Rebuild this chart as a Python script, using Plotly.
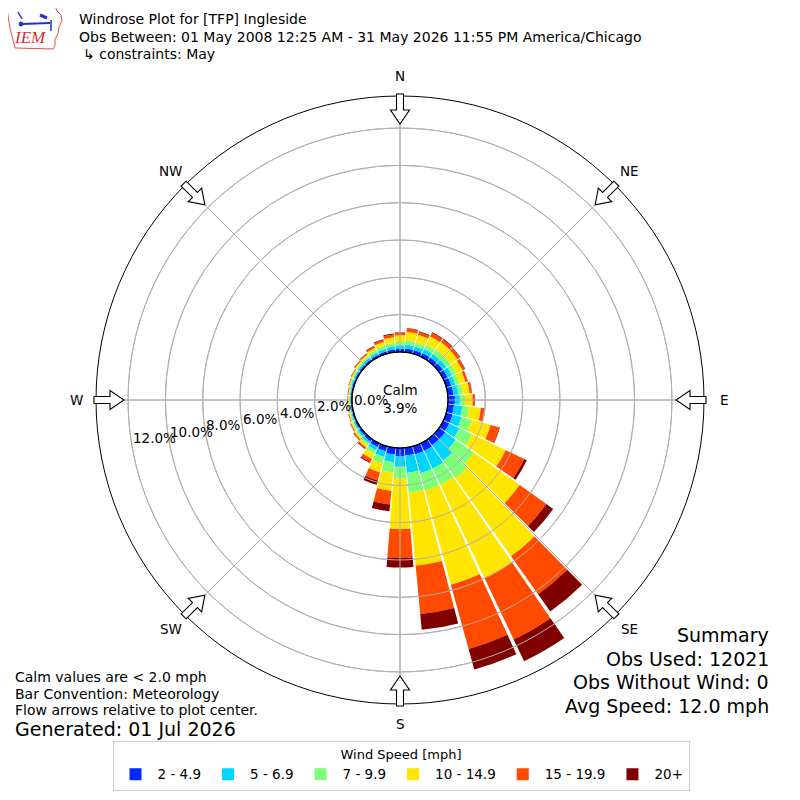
import math
import plotly.graph_objects as go

# ---------------- data ----------------
directions = list(range(0, 360, 10))
speed_labels = ["2 - 4.9", "5 - 6.9", "7 - 9.9", "10 - 14.9", "15 - 19.9", "20+"]
speed_colors = ["#0028ff", "#00d4ff", "#7dff7a", "#ffe600", "#ff4a00", "#800000"]

pct_2_5 = [0.17, 0.20, 0.20, 0.22, 0.22, 0.24, 0.25, 0.27, 0.30, 0.37,
           0.33, 0.35, 0.35, 0.40, 0.40, 0.45, 0.45, 0.42, 0.45, 0.36,
           0.28, 0.22, 0.15, 0.12, 0.10, 0.08, 0.07, 0.07, 0.07, 0.08,
           0.09, 0.10, 0.11, 0.12, 0.14, 0.15]
pct_5_7 = [0.18, 0.20, 0.20, 0.23, 0.24, 0.24, 0.25, 0.23, 0.26, 0.27,
           0.45, 0.50, 0.60, 0.70, 1.00, 1.05, 1.05, 0.93, 0.55, 0.42,
           0.32, 0.20, 0.13, 0.10, 0.08, 0.06, 0.05, 0.05, 0.05, 0.07,
           0.08, 0.10, 0.11, 0.13, 0.14, 0.16]
pct_7_10 = [0.20, 0.25, 0.22, 0.27, 0.28, 0.28, 0.25, 0.22, 0.24, 0.27,
            0.36, 0.57, 0.75, 1.20, 1.15, 0.96, 0.95, 1.06, 0.62, 0.55,
            0.35, 0.20, 0.12, 0.09, 0.08, 0.06, 0.05, 0.05, 0.05, 0.06,
            0.07, 0.09, 0.10, 0.13, 0.16, 0.19]
pct_10_15 = [0.35, 0.45, 0.43, 0.48, 0.48, 0.44, 0.38, 0.34, 0.37, 0.41,
             0.64, 1.04, 2.00, 3.00, 5.15, 5.54, 5.25, 3.94, 2.73, 0.99,
             0.50, 0.30, 0.15, 0.11, 0.08, 0.06, 0.05, 0.05, 0.04, 0.05,
             0.06, 0.09, 0.10, 0.15, 0.21, 0.30]
pct_15_20 = [0.12, 0.17, 0.16, 0.20, 0.19, 0.17, 0.15, 0.12, 0.11, 0.11,
             0.17, 0.49, 1.10, 1.75, 2.50, 3.63, 3.57, 2.60, 1.55, 0.73,
             0.45, 0.18, 0.08, 0.06, 0.05, 0.03, 0.02, 0.02, 0.03, 0.03,
             0.04, 0.05, 0.06, 0.09, 0.11, 0.15]
pct_20_up = [0.03, 0.03, 0.04, 0.05, 0.04, 0.03, 0.02, 0.02, 0.02, 0.02,
             0.02, 0.03, 0.15, 0.45, 1.13, 1.30, 1.14, 0.85, 0.50, 0.36,
             0.24, 0.07, 0.03, 0.02, 0.01, 0.01, 0.01, 0.01, 0.01, 0.01,
             0.01, 0.02, 0.02, 0.03, 0.04, 0.05]
speed_series = [pct_2_5, pct_5_7, pct_7_10, pct_10_15, pct_15_20, pct_20_up]

radial_ticks = [0, 2, 4, 6, 8, 10, 12]
radial_max = 13.72
compass_angles = [0, 45, 90, 135, 180, 225, 270, 315]
compass_labels = ["N", "NE", "E", "SE", "S", "SW", "W", "NW"]

calm_pct = 3.9
title_lines = ["Windrose Plot for [TFP] Ingleside",
               "Obs Between: 01 May 2008 12:25 AM - 31 May 2026 11:55 PM America/Chicago",
               "\u21b3 constraints: May"]
notes_left = ["Calm values are &lt; 2.0 mph", "Bar Convention: Meteorology",
              "Flow arrows relative to plot center."]
generated = "Generated: 01 Jul 2026"
summary_lines = ["Summary", "Obs Used: 12021", "Obs Without Wind: 0", "Avg Speed: 12.0 mph"]

# ---------------- geometry (reference pixel frame) ----------------
OFF = 8            # page body margin
FW = FH = 784      # figure size that fits the 800px window
CX, CY = 400.0, 400.0
R_OUT = 304.0
HOLE = 0.158
R_HOLE = R_OUT * HOLE
SCALE = (R_OUT - R_HOLE) / radial_max
R_LABEL = 324.0
FONT = "DejaVu Sans"
GRID = "#b0b0b0"


def px(x, y):
    return (x - OFF) / FW, 1 - (y - OFF) / FH


fig = go.Figure()

for vals, name, col in zip(speed_series, speed_labels, speed_colors):
    fig.add_trace(go.Barpolar(r=vals, theta=directions, name=name, width=9.2,
                              marker=dict(color=col, line=dict(width=0)),
                              hoverinfo="skip"))

# grid drawn above the bars, as in the reference
circle_theta = list(range(0, 361, 2))
for t in radial_ticks[1:]:
    fig.add_trace(go.Scatterpolar(r=[t] * len(circle_theta), theta=circle_theta, mode="lines",
                                  line=dict(color=GRID, width=1), showlegend=False,
                                  hoverinfo="skip"))
for a in compass_angles:
    fig.add_trace(go.Scatterpolar(r=[0, radial_max], theta=[a, a], mode="lines",
                                  line=dict(color=GRID, width=1), showlegend=False,
                                  hoverinfo="skip"))

x0, y1 = px(CX - R_OUT, CY - R_OUT)
x1, y0 = px(CX + R_OUT, CY + R_OUT)

shapes = []
hx0, hy1 = px(CX - R_HOLE, CY - R_HOLE)
hx1, hy0 = px(CX + R_HOLE, CY + R_HOLE)
shapes.append(dict(type="circle", xref="paper", yref="paper", x0=hx0, y0=hy0, x1=hx1, y1=hy1,
                   line=dict(color="black", width=1.2), layer="above"))

# flow arrows (pointing to plot center)
arrow_outline = [(306, -3.5), (290, -3.5), (290, -9.5), (276, 0), (290, 9.5), (290, 3.5), (306, 3.5)]
for a in compass_angles:
    th = math.radians(a)
    d = (math.sin(th), -math.cos(th))
    p = (math.cos(th), math.sin(th))
    pts = [px(CX + r * d[0] + w * p[0], CY + r * d[1] + w * p[1]) for r, w in arrow_outline]
    path = "M " + " L ".join(f"{u:.5f},{v:.5f}" for u, v in pts) + " Z"
    shapes.append(dict(type="path", xref="paper", yref="paper", path=path,
                       fillcolor="white", line=dict(color="black", width=1.1), layer="above"))

# IEM logo
logo_pts = [(7, 6), (55, 6), (57, 11), (61, 15), (62, 21), (59, 27), (58, 34), (55, 39),
            (55, 45), (53, 49), (15, 48), (13, 40), (10, 28), (8, 16)]
lp = "M " + " L ".join(f"{u:.5f},{v:.5f}" for u, v in (px(x, y) for x, y in logo_pts)) + " Z"
shapes.append(dict(type="path", xref="paper", yref="paper", path=lp,
                   line=dict(color="#e05050", width=1), fillcolor="rgba(0,0,0,0)"))
for (ax_, ay_, bx_, by_, wd) in [(22, 24, 50, 23, 2.2), (18, 12, 22, 19, 1.5),
                                 (40, 15, 47, 18, 3), (51, 20, 51, 31, 1.5)]:
    a0, b0 = px(ax_, ay_)
    a1, b1 = px(bx_, by_)
    shapes.append(dict(type="line", xref="paper", yref="paper", x0=a0, y0=b0, x1=a1, y1=b1,
                       line=dict(color="#2233cc", width=wd)))
ca, cb = px(19, 22)
cc, cd = px(23, 26)
shapes.append(dict(type="circle", xref="paper", yref="paper", x0=ca, y0=cd, x1=cc, y1=cb,
                   fillcolor="#2233cc", line=dict(color="#2233cc", width=1)))

ann = []


def text(x, y, s, size, xanchor="left", color="black", family=FONT):
    u, v = px(x, y)
    ann.append(dict(x=u, y=v, xref="paper", yref="paper", text=s, showarrow=False,
                    xanchor=xanchor, yanchor="middle", borderpad=0,
                    font=dict(size=size, color=color, family=family)))


text(30, 38, "<i>IEM</i>", 17, xanchor="center", color="#d03030", family="Liberation Serif")
text(78, 19, title_lines[0], 14)
text(78, 37, title_lines[1], 14)
text(82, 54, title_lines[2], 14)

for i, s in enumerate(notes_left):
    text(14, 677 + i * 16.5, s, 14)
text(14, 729, generated, 19)

for i, s in enumerate(summary_lines):
    text(770, 635 + i * 23.5, s, 19, xanchor="right")

text(CX, CY - 1, f"Calm<br>{calm_pct:.1f}%", 13.5, xanchor="center")

for t in radial_ticks:
    r = R_HOLE + t * SCALE
    dy = (r - R_HOLE) * 0.17
    xl = CX - math.sqrt(r * r - dy * dy) + 1
    text(xl, CY + dy, f"{t:.1f}%", 13.5)

# compass labels outside the circle
for a, lab in zip(compass_angles, compass_labels):
    th = math.radians(a)
    text(CX + R_LABEL * math.sin(th), CY - R_LABEL * math.cos(th), lab, 13.5, xanchor="center")

fig.update_layout(
    width=FW, height=FH, autosize=False,
    margin=dict(l=0, r=0, t=0, b=0),
    paper_bgcolor="white", plot_bgcolor="white",
    font=dict(family=FONT, size=13, color="black"),
    polar=dict(
        domain=dict(x=[x0, x1], y=[y0, y1]),
        hole=HOLE,
        bgcolor="white",
        barmode="stack",
        radialaxis=dict(range=[0, radial_max], tickvals=radial_ticks, showticklabels=False,
                        showgrid=True, gridcolor=GRID, gridwidth=1, showline=False, ticks=""),
        angularaxis=dict(rotation=90, direction="clockwise", tickvals=compass_angles,
                         showticklabels=False, showgrid=True, gridcolor=GRID,
                         showline=True, linecolor="black", linewidth=1, ticks=""),
    ),
    legend=dict(orientation="h", x=px(401, 0)[0], xanchor="center", y=px(0, 741)[1], yanchor="top",
                bordercolor="#cccccc", borderwidth=1, bgcolor="white",
                title=dict(text="Wind Speed [mph]", side="top center", font=dict(size=13)),
                font=dict(size=13.5), itemwidth=34, traceorder="normal"),
    shapes=shapes,
    annotations=ann,
    showlegend=True,
)

fig.write_html("out.html")
